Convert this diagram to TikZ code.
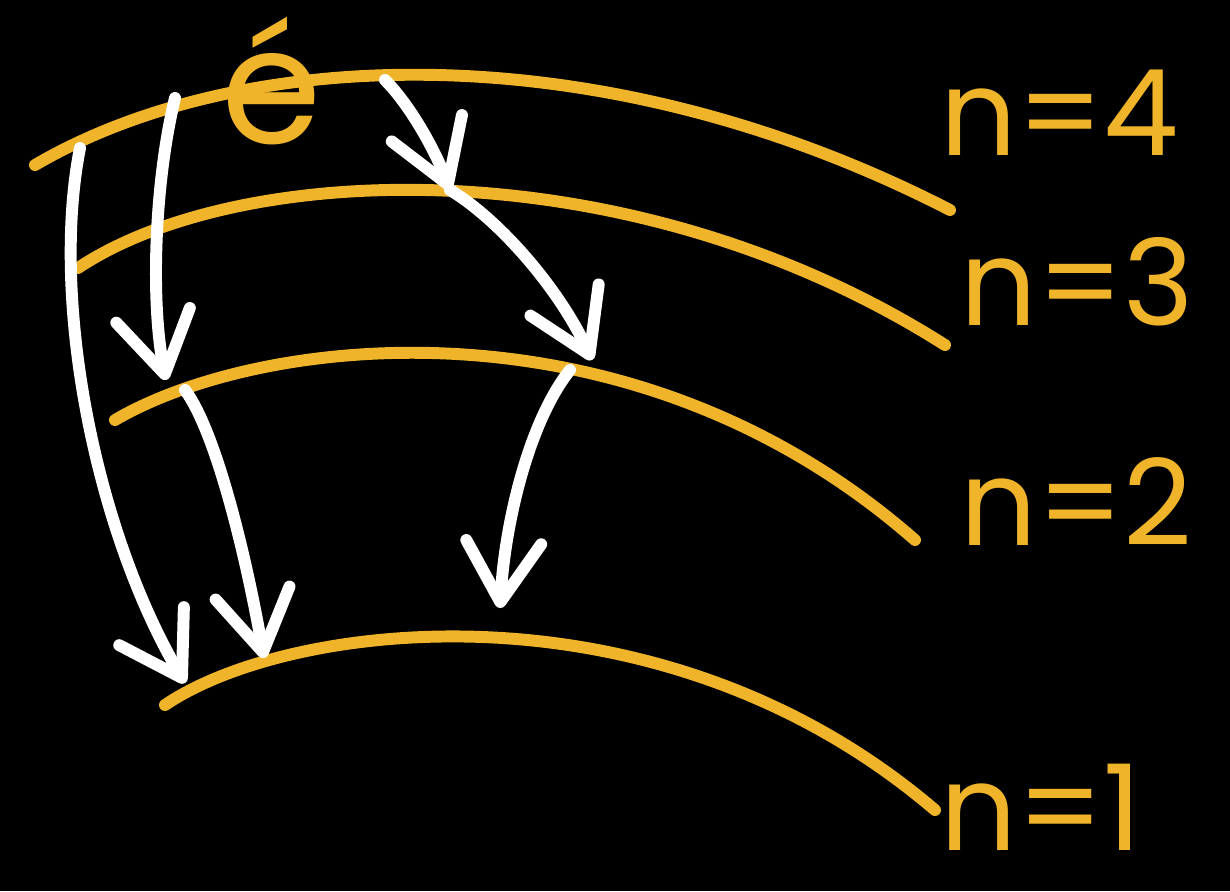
\documentclass[tikz,border=0pt]{standalone}
\usepackage{fontspec}
\setmainfont{Poppins}
\usetikzlibrary{arrows.meta}
\definecolor{levelgold}{HTML}{F0B42A}
\begin{document}
\begin{tikzpicture}[x=1cm,y=1cm,
  levelline/.style={draw=levelgold, line width=3.4pt, line cap=round, line join=round},
  jump/.style={draw=white, line width=3.4pt, line cap=round, line join=round,
    -{Straight Barb[length=6mm,width=7.5mm,round]}},
  levellabel/.style={text=levelgold, font=\fontsize{34}{40}\selectfont, anchor=base west, inner sep=0pt}]
\fill[black] (0,0) rectangle (12.3,-8.91);
\useasboundingbox (0,0) rectangle (12.3,-8.91);

% energy levels
\draw[levelline] (0.35,-1.65) .. controls (2.4,-0.45) and (6.0,-0.3) .. (9.5,-2.1);
\draw[levelline] (0.78,-2.68) .. controls (2.4,-1.6) and (6.3,-1.45) .. (9.45,-3.45);
\draw[levelline] (1.15,-4.2) .. controls (2.6,-3.35) and (6.3,-2.9) .. (9.15,-5.4);
\draw[levelline] (1.65,-7.05) .. controls (2.9,-6.2) and (6.6,-5.75) .. (9.35,-8.1);

% labels
\node[levellabel] (l4) at (9.40,-1.55) {n=4};
\node[levellabel] (l3) at (9.60,-3.25) {n=3};
\node[levellabel] (l2) at (9.60,-5.45) {n=2};
\node[levellabel] (l1) at (9.40,-8.50) {n=1};
\node[text=levelgold, font=\fontsize{46}{52}\selectfont, inner sep=0pt, anchor=base] (el) at (2.72,-1.43) {é};

% transition end points
\coordinate (a1) at (0.80,-1.48);
\coordinate (b1) at (1.85,-6.83);
\coordinate (a2) at (1.75,-0.98);
\coordinate (b2) at (1.66,-3.80);
\coordinate (a3) at (1.85,-3.90);
\coordinate (b3) at (2.64,-6.58);
\coordinate (a4) at (3.85,-0.80);
\coordinate (b4) at (4.50,-1.90);
\coordinate (b5) at (5.92,-3.60);
\coordinate (a6) at (5.70,-3.70);
\coordinate (b6) at (5.00,-6.08);

% transitions
\draw[jump] (a1) .. controls (0.50,-3.0) and (0.95,-5.3) .. (b1);
\draw[jump] (a2) .. controls (1.55,-1.8) and (1.5,-3.0) .. (b2);
\draw[jump] (a3) .. controls (2.15,-4.3) and (2.45,-5.5) .. (b3);
\draw[jump] (a4) .. controls (4.1,-1.05) and (4.35,-1.5) .. (b4);
\draw[jump] (b4) .. controls (5.0,-2.2) and (5.6,-2.9) .. (b5);
\draw[jump] (a6) .. controls (5.3,-4.2) and (5.05,-5.2) .. (b6);
\end{tikzpicture}
\end{document}
